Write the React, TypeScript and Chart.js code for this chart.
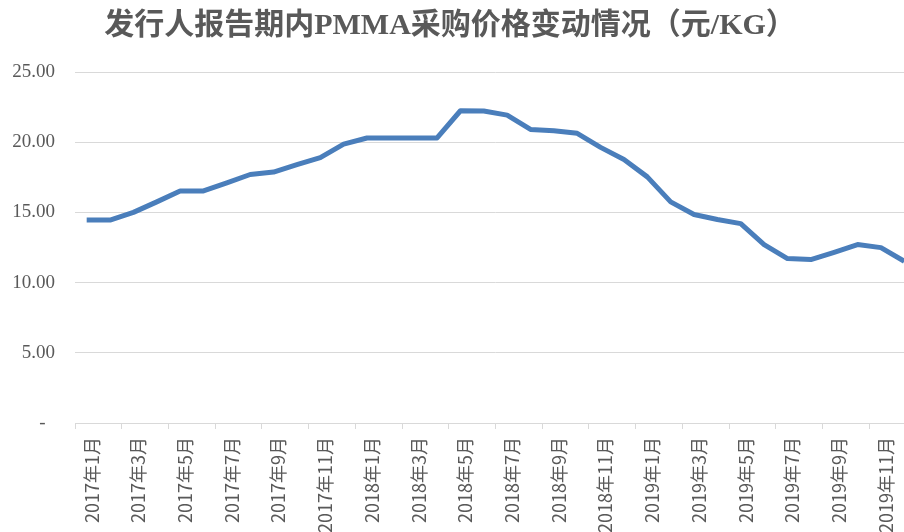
import React, { useEffect, useRef } from "react";
import { Chart, registerables } from "chart.js";

Chart.register(...registerables);

const TITLE = "发行人报告期内PMMA采购价格变动情况（元/KG）";

const categories = [
  "2017年1月", "2017年2月", "2017年3月", "2017年4月", "2017年5月", "2017年6月",
  "2017年7月", "2017年8月", "2017年9月", "2017年10月", "2017年11月", "2017年12月",
  "2018年1月", "2018年2月", "2018年3月", "2018年4月", "2018年5月", "2018年6月",
  "2018年7月", "2018年8月", "2018年9月", "2018年10月", "2018年11月", "2018年12月",
  "2019年1月", "2019年2月", "2019年3月", "2019年4月", "2019年5月", "2019年6月",
  "2019年7月", "2019年8月", "2019年9月", "2019年10月", "2019年11月", "2019年12月",
];

const prices = [
  14.45, 14.45, 15.0, 15.75, 16.53, 16.53,
  17.1, 17.7, 17.87, 18.4, 18.9, 19.86,
  20.3, 20.3, 20.3, 20.3, 22.24, 22.22,
  21.93, 20.91, 20.81, 20.63, 19.63, 18.77,
  17.53, 15.75, 14.85, 14.49, 14.2, 12.71,
  11.71, 11.64, 12.16, 12.71, 12.49, 11.52,
];

const yTicks = [0, 5, 10, 15, 20, 25];

const CANVAS_W = 934;
const CANVAS_H = 560;

const titlePlugin = {
  id: "customTitle",
  afterDraw(chart: any) {
    const ctx = chart.ctx;
    ctx.save();
    ctx.font = "bold 30px 'Liberation Serif', 'Noto Sans CJK SC', serif";
    ctx.fillStyle = "#595959";
    ctx.textAlign = "center";
    ctx.textBaseline = "middle";
    ctx.fillText(TITLE, 450, 26);
    ctx.restore();
  },
};

export default function App() {
  const ref = useRef<HTMLCanvasElement | null>(null);

  useEffect(() => {
    if (!ref.current) return;
    const chart = new Chart(ref.current, {
      type: "line",
      data: {
        labels: categories,
        datasets: [
          {
            data: prices,
            borderColor: "#4a7ebb",
            backgroundColor: "#4a7ebb",
            borderWidth: 5,
            pointRadius: 0,
            tension: 0,
            borderJoinStyle: "round",
            fill: false,
          },
        ],
      },
      options: {
        animation: false,
        responsive: false,
        devicePixelRatio: 1,
        layout: { padding: { top: 72, left: 0, right: 10, bottom: 0 } },
        plugins: {
          legend: { display: false },
          tooltip: { enabled: false },
          title: { display: false },
        },
        scales: {
          x: {
            type: "category",
            offset: true,
            afterFit: (scale: any) => {
              scale.height = CANVAS_H - 423;
            },
            border: { display: true, color: "#d9d9d9", width: 1 },
            grid: {
              offset: true,
              drawOnChartArea: false,
              drawTicks: true,
              tickLength: 6,
              color: (ctx: any) => (ctx.index % 2 === 0 ? "#d9d9d9" : "rgba(0,0,0,0)"),
            },
            ticks: {
              autoSkip: false,
              maxRotation: 90,
              minRotation: 90,
              padding: 8,
              labelOffset: 5,
              color: "#595959",
              font: { family: "'Noto Sans CJK SC', sans-serif", size: 18 },
              callback: (_v: any, i: number) => (i % 2 === 0 ? categories[i] : ""),
            },
          },
          y: {
            min: 0,
            max: 25,
            afterFit: (scale: any) => {
              scale.width = 75;
            },
            afterBuildTicks: (scale: any) => {
              scale.ticks = yTicks.map((v) => ({ value: v }));
            },
            border: { display: false },
            grid: {
              color: "#d9d9d9",
              lineWidth: 1,
              drawTicks: false,
            },
            ticks: {
              padding: 20,
              color: "#595959",
              font: { family: "'Liberation Serif', serif", size: 19 },
              callback: (v: any) => (Number(v) === 0 ? "-  " : Number(v).toFixed(2)),
            },
          },
        },
      },
      plugins: [titlePlugin],
    });
    return () => chart.destroy();
  }, []);

  return (
    <div
      style={{
        position: "fixed",
        left: 0,
        top: 0,
        width: 904,
        height: 532,
        overflow: "hidden",
        background: "#ffffff",
      }}
    >
      <canvas
        ref={ref}
        width={CANVAS_W}
        height={CANVAS_H}
        style={{ width: CANVAS_W, height: CANVAS_H, display: "block" }}
      />
    </div>
  );
}
